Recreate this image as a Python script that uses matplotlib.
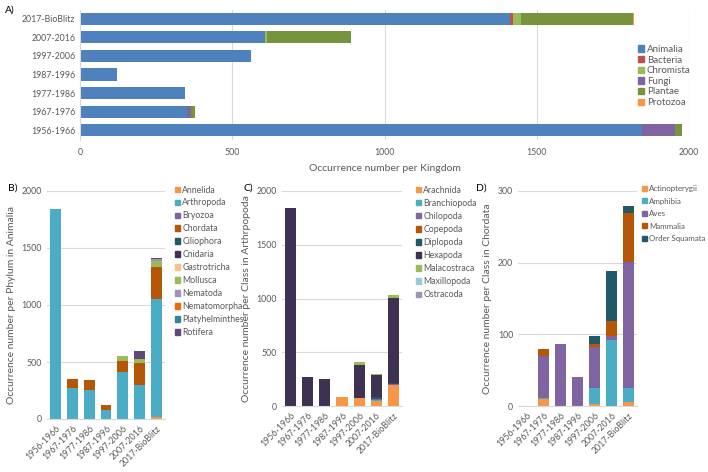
import numpy as np
import matplotlib
matplotlib.use("Agg")
import matplotlib.pyplot as plt
from matplotlib.patches import Patch

plt.rcParams['font.family'] = ['Lato', 'DejaVu Sans']

# ---------------------------------------------------------------
# Datos
# ---------------------------------------------------------------
periods = ["1956-1966", "1967-1976", "1977-1986", "1987-1996",
           "1997-2006", "2007-2016", "2017-BioBlitz"]

# A) reino
kingdoms = ["Animalia", "Bacteria", "Chromista", "Fungi", "Plantae", "Protozoa"]
animalia = [1846, 352, 346, 121, 561, 608, 1412]
bacteria = [0, 0, 0, 0, 0, 0, 10]
chromista = [0, 0, 0, 0, 0, 5, 25]
fungi = [107, 12, 0, 0, 0, 0, 0]
plantae = [23, 15, 0, 0, 0, 276, 370]
protozoa = [0, 0, 0, 0, 0, 2, 3]

# B) filo en Animalia
phyla = ["Annelida", "Arthropoda", "Bryozoa", "Chordata", "Ciliophora", "Cnidaria",
         "Gastrotricha", "Mollusca", "Nematoda", "Nematomorpha", "Platyhelminthes", "Rotifera"]
annelida = [0, 0, 0, 0, 0, 0, 15]
arthropoda = [1842, 272, 255, 80, 410, 300, 1036]
bryozoa = [0, 0, 0, 0, 0, 0, 0]
chordata = [0, 80, 87, 41, 97, 189, 279]
ciliophora = [0, 0, 0, 0, 0, 0, 0]
cnidaria = [0, 0, 0, 0, 0, 3, 0]
gastrotricha = [0, 3, 3, 0, 0, 0, 0]
mollusca = [0, 0, 0, 0, 45, 37, 55]
nematoda = [0, 0, 0, 0, 0, 0, 15]
nematomorpha = [0, 0, 0, 0, 0, 0, 0]
platyhelminthes = [0, 0, 0, 0, 0, 0, 0]
rotifera = [0, 0, 0, 0, 5, 70, 15]

# C) clase en Arthropoda
arth_classes = ["Arachnida", "Branchiopoda", "Chilopoda", "Copepoda", "Diplopoda",
                "Hexapoda", "Malacostraca", "Maxillopoda", "Ostracoda"]
arachnida = [0, 0, 0, 80, 75, 45, 195]
branchiopoda = [0, 0, 0, 0, 0, 15, 0]
chilopoda = [0, 0, 0, 0, 0, 5, 10]
copepoda = [0, 0, 0, 0, 0, 0, 0]
diplopoda = [0, 0, 0, 0, 0, 15, 12]
hexapoda = [1842, 268, 255, 0, 310, 205, 785]
malacostraca = [0, 4, 0, 0, 20, 10, 34]
maxillopoda = [0, 0, 0, 0, 0, 0, 0]
ostracoda = [0, 0, 0, 0, 5, 5, 0]

# D) clase en Chordata
chord_classes = ["Actinopterygii", "Amphibia", "Aves", "Mammalia", "Order Squamata"]
actinopterygii = [0, 10, 0, 0, 3, 0, 5]
amphibia = [0, 1, 0, 0, 22, 92, 20]
aves = [0, 59, 87, 41, 58, 5, 176]
mammalia = [0, 10, 0, 0, 3, 21, 68]
squamata = [0, 0, 0, 0, 11, 71, 10]

# ---------------------------------------------------------------
# Estilo
# ---------------------------------------------------------------
ORANGE = "#F79646"
AQUA = "#4BACC6"
PURPLE = "#8064A2"
BROWN = "#B65708"
DTEAL = "#215968"
DPURPLE = "#3F3151"
LORANGE = "#FAC08F"
GREEN = "#9BBB59"
LPURPLE = "#A092B7"
DORANGE = "#E46C0A"
TEAL = "#31859C"
MPURPLE = "#5F497A"
LAQUA = "#93CDDD"

TXT = "#595959"
GRID = "#D9D9D9"

fig = plt.figure(figsize=(7.08, 4.72), dpi=100)


def style(ax, horizontal=False):
    for s in ax.spines.values():
        s.set_visible(False)
    ax.tick_params(length=0, colors=TXT, labelsize=6.3)
    ax.set_axisbelow(True)
    if horizontal:
        ax.grid(axis="x", color=GRID, lw=0.8)
        ax.spines["left"].set_visible(True)
        ax.spines["left"].set_color(GRID)
    else:
        ax.grid(axis="y", color=GRID, lw=0.8)
        ax.spines["bottom"].set_visible(True)
        ax.spines["bottom"].set_color(GRID)


def stacked(ax, series, colors, horizontal=False, width=0.65):
    pos = np.arange(len(periods))
    base = np.zeros(len(periods))
    for vals, c in zip(series, colors):
        vals = np.array(vals, dtype=float)
        if horizontal:
            ax.barh(pos, vals, left=base, height=width, color=c, lw=0)
        else:
            ax.bar(pos, vals, bottom=base, width=width, color=c, lw=0)
        base += vals


def legend(labels, colors, x, y, spacing, size=6.3):
    handles = [Patch(color=c, label=l) for l, c in zip(labels, colors)]
    fig.legend(handles=handles, loc="upper left", bbox_to_anchor=(x, y),
               frameon=False, fontsize=size,
               handlelength=0.6, handleheight=0.6,
               handletextpad=0.3, labelspacing=spacing, borderaxespad=0,
               labelcolor=TXT)


# --- A)
axA = fig.add_axes([80 / 708, 1 - 139.5 / 472, 609 / 708, 130 / 472])
style(axA, horizontal=True)
stacked(axA, [animalia, bacteria, chromista, fungi, plantae, protozoa],
        ["#4F81BD", "#C0504D", GREEN, PURPLE, "#77933C", ORANGE], horizontal=True)
axA.set_yticks(np.arange(len(periods)), periods)
axA.set_ylim(-0.5, len(periods) - 0.5)
axA.set_xlim(0, 2000)
axA.set_xticks([0, 500, 1000, 1500, 2000])
axA.tick_params(axis="x", pad=6)
axA.set_xlabel("Occurrence number per Kingdom", fontsize=7.5, color=TXT, labelpad=5)
legend(kingdoms, ["#4F81BD", "#C0504D", GREEN, PURPLE, "#77933C", ORANGE],
       634 / 708, 1 - 41 / 472, 0.17, size=7)
fig.text(5 / 708, 1 - 10 / 472, "A)", fontsize=7.5, va="center")

# --- B)
axB = fig.add_axes([47 / 708, 1 - 419 / 472, 118 / 708, 228 / 472])
style(axB)
stacked(axB, [annelida, arthropoda, bryozoa, chordata, ciliophora, cnidaria, gastrotricha,
              mollusca, nematoda, nematomorpha, platyhelminthes, rotifera],
        [ORANGE, AQUA, PURPLE, BROWN, DTEAL, DPURPLE, LORANGE, GREEN, LPURPLE,
         DORANGE, TEAL, MPURPLE])
axB.set_ylim(0, 2000)
axB.set_yticks([0, 500, 1000, 1500, 2000])
axB.set_xlim(-0.5, len(periods) - 0.5)
axB.set_xticks(np.arange(len(periods)), periods, rotation=45, ha="right",
               rotation_mode="anchor")
axB.set_ylabel("Occurrence number per Phylum in Animalia", fontsize=7.5, color=TXT)
legend(phyla, [ORANGE, AQUA, PURPLE, BROWN, DTEAL, DPURPLE, LORANGE, GREEN, LPURPLE,
               DORANGE, TEAL, MPURPLE], 171 / 708, 1 - 182 / 472, 0.45)
fig.text(8 / 708, 1 - 188 / 472, "B)", fontsize=7.5, va="center")

# --- C)
axC = fig.add_axes([282 / 708, 1 - 406 / 472, 120 / 708, 215 / 472])
style(axC)
stacked(axC, [arachnida, branchiopoda, chilopoda, copepoda, diplopoda, hexapoda,
              malacostraca, maxillopoda, ostracoda],
        [ORANGE, AQUA, PURPLE, BROWN, DTEAL, DPURPLE, GREEN, LAQUA, LPURPLE])
axC.set_ylim(0, 2000)
axC.set_yticks([0, 500, 1000, 1500, 2000])
axC.set_xlim(-0.5, len(periods) - 0.5)
axC.set_xticks(np.arange(len(periods)), periods, rotation=45, ha="right",
               rotation_mode="anchor")
axC.set_ylabel("Occurrence number per Class in Arthrpopoda", fontsize=7.5, color=TXT)
legend(arth_classes, [ORANGE, AQUA, PURPLE, BROWN, DTEAL, DPURPLE, GREEN, LAQUA, LPURPLE],
       412 / 708, 1 - 182 / 472, 0.47)
fig.text(244 / 708, 1 - 188 / 472, "C)", fontsize=7.5, va="center")

# --- D)
axD = fig.add_axes([518 / 708, 1 - 406 / 472, 119 / 708, 215 / 472])
style(axD)
stacked(axD, [actinopterygii, amphibia, aves, mammalia, squamata],
        [ORANGE, AQUA, PURPLE, BROWN, DTEAL])
axD.set_ylim(0, 300)
axD.set_yticks([0, 100, 200, 300])
axD.set_xlim(-0.5, len(periods) - 0.5)
axD.set_xticks(np.arange(len(periods)), periods, rotation=45, ha="right",
               rotation_mode="anchor")
axD.set_ylabel("Occurrence number per Class in Chordata", fontsize=7.5, color=TXT)
legend(chord_classes, [ORANGE, AQUA, PURPLE, BROWN, DTEAL], 639 / 708, 1 - 182 / 472,
       0.69, size=5.7)
fig.text(476 / 708, 1 - 188 / 472, "D)", fontsize=7.5, va="center")

fig.savefig("out.png", dpi=100)
